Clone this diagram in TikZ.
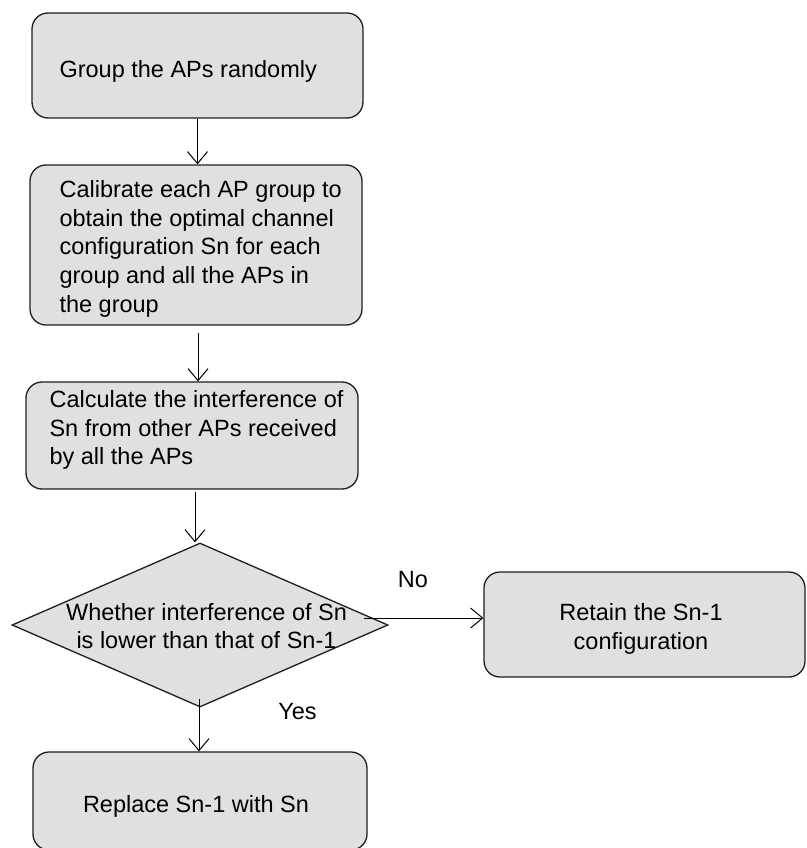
\documentclass[tikz,border=0pt]{standalone}
\usepackage{fontspec}
\setmainfont{Liberation Sans}
\usetikzlibrary{shapes.geometric,arrows.meta,calc}
\definecolor{boxfill}{RGB}{224,224,224}
\definecolor{edge}{RGB}{30,30,30}
\tikzset{
  procbox/.style={draw=edge, line width=1.3pt, fill=boxfill, rounded corners=16pt,
    inner sep=0pt},
  decbox/.style={draw=edge, line width=1.3pt, fill=boxfill, shape=diamond,
    inner sep=0pt},
  txt/.style={inner sep=0pt, font=\fontsize{23.5}{28.7}\selectfont},
  arr/.style={draw=black, line width=1pt, -{Straight Barb[length=12pt,width=20pt]}},
}
\begin{document}
\begin{tikzpicture}[x=1pt, y=-1pt]
\useasboundingbox (0,0) rectangle (806,848);

% process boxes
\node[procbox, minimum width=331pt, minimum height=105pt] (b1) at (197.5,65.5) {};
\node[procbox, minimum width=332pt, minimum height=160pt] (b2) at (196,245) {};
\node[procbox, minimum width=332pt, minimum height=107pt] (b3) at (192,435.5) {};
\node[decbox, minimum width=376pt, minimum height=164pt] (dec) at (200,625) {};
\node[procbox, minimum width=321pt, minimum height=105pt] (ret) at (644.5,624.5) {};
\node[procbox, minimum width=334pt, minimum height=98pt] (rep) at (200,801) {};

% box texts
\node[txt, anchor=west, align=left] (b1t) at ($(b1.west)+(28,6.2)$) {Group the APs randomly};
\node[txt, anchor=west, align=left] (b2t) at ($(b2.west)+(30,3.7)$)
  {Calibrate each AP group to\\obtain the optimal channel\\configuration Sn for each\\group and all the APs in\\the group};
\node[txt, anchor=west, align=left] (b3t) at ($(b3.west)+(24,-5.3)$)
  {Calculate the interference of\\Sn from other APs received\\by all the APs};
\node[txt, align=center] (dect) at (206.5,626) {Whether interference of Sn\\is lower than that of Sn-1};
\node[txt, align=center] (rett) at ($(ret.center)+(-3.5,4.3)$) {Retain the Sn-1\\configuration};
\node[txt, align=center] (rept) at ($(rep.center)+(-4,5.8)$) {Replace Sn-1 with Sn};

% branch labels
\node[txt, anchor=base] (no) at (413,587) {No};
\node[txt, anchor=base] (yes) at (297.5,719) {Yes};

% connectors
\coordinate (s2) at ($(b2.south)+(2,7)$);
\coordinate (s3) at ($(b3.south)+(3,2)$);
\coordinate (s4) at ($(dec.south)+(-1,-9)$);
\coordinate (s5) at ($(dec.east)+(-25,-7)$);
\draw[arr] (b1.south) -- (b1.south |- b2.north);
\draw[arr] (s2) -- (s2 |- b3.north);
\draw[arr] (s3) -- (s3 |- dec.north);
\draw[arr] (s4) -- (s4 |- rep.north);
\draw[arr] (s5) -- (s5 -| ret.west);
\end{tikzpicture}
\end{document}
